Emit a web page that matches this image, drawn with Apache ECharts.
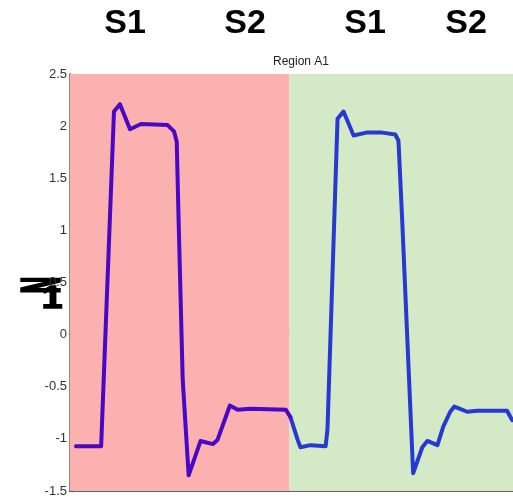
<!DOCTYPE html>
<html>
<head>
<meta charset="utf-8">
<style>
  html, body { margin: 0; padding: 0; background: #fff; }
  #chart { width: 513px; height: 502px; }
</style>
<script src="https://cdn.jsdelivr.net/npm/echarts@6/dist/echarts.min.js"></script>
</head>
<body>
<div id="chart"></div>
<script>
// trace (x in tick units, y in Z1 units)
const traceX = [0.13, 0.68, 0.96, 1.09, 1.31, 1.55, 2.13, 2.27, 2.33, 2.37, 2.46, 2.59,
  2.85, 3.12, 3.22, 3.49, 3.66, 3.94, 4.71, 4.81, 4.97, 5.03, 5.25, 5.58, 5.62,
  5.84, 5.97, 6.19, 6.49, 6.78, 7.10, 7.17, 7.25, 7.49, 7.69, 7.80, 8.02, 8.15,
  8.30, 8.39, 8.67, 8.89, 9.54, 9.65];
const traceY = [-1.07, -1.07, 2.14, 2.21, 1.97, 2.02, 2.01, 1.95, 1.85, 1.11, -0.43, -1.35,
  -1.02, -1.05, -1.01, -0.68, -0.72, -0.71, -0.72, -0.79, -1.01, -1.08, -1.06, -1.07, -0.91,
  2.07, 2.14, 1.91, 1.94, 1.94, 1.92, 1.86, 1.11, -1.33, -1.08, -1.02, -1.06, -0.88,
  -0.74, -0.69, -0.74, -0.73, -0.73, -0.82];

const regionSplit = 4.79;   // red | green boundary
const xMax = 9.67;
const yTicks = [-1.5, 2.5, 0.5]; // min, max, interval
const titleText = 'Region A1';
const phaseLabels = ['S1', 'S2', 'S1', 'S2'];
const axisName = ['N', '1'];

const chart = echarts.init(document.getElementById('chart'));

const points = traceX.map((x, i) => [x, traceY[i]]);
// first point at/after the boundary: purple up to it, blue from it on
const cut = traceX.findIndex(x => x >= regionSplit);
const redPart = points.slice(0, cut + 1);
const greenPart = points.slice(cut);

const phaseX = [125, 245, 365, 466];
const narrow = '"Liberation Sans Narrow", "Arial Narrow", "Liberation Sans", sans-serif';
const boldFont = 'bold 34px "Liberation Sans", Arial, sans-serif';

const option = {
  backgroundColor: '#fff',
  animation: false,
  title: {
    text: titleText,
    left: 296, top: 51,
    textAlign: 'center',
    textStyle: { fontFamily: narrow, fontSize: 12, fontWeight: 'normal', color: '#222' }
  },
  graphic: [
    ...phaseLabels.map((t, i) => ({
      type: 'text', x: phaseX[i], y: 24,
      style: { text: t, fill: '#000', font: boldFont, textAlign: 'center', textVerticalAlign: 'middle' }
    })),
    {
      // rotated, squashed "N" that reads like a Z
      type: 'text', x: 37, y: 285, rotation: -Math.PI / 2, scaleX: 0.66, scaleY: 1.6,
      style: { text: axisName[0], fill: '#000', stroke: '#000', lineWidth: 2.2,
        font: boldFont, textAlign: 'center', textVerticalAlign: 'middle' }
    },
    {
      type: 'text', x: 52, y: 299, scaleX: 1.2,
      style: { text: axisName[1], fill: '#000', stroke: '#000', lineWidth: 1.5,
        font: 'bold 31px "Liberation Sans", Arial, sans-serif',
        textAlign: 'center', textVerticalAlign: 'middle' }
    }
  ],
  grid: { left: 70, right: 0, top: 74, bottom: 11 },
  xAxis: [{
    type: 'value', min: 0, max: xMax, interval: 1,
    axisLine: { show: true, onZero: false, lineStyle: { color: '#666', width: 2 } },
    axisTick: { show: true, inside: true, length: 5, lineStyle: { color: '#666' } },
    axisLabel: { show: false },
    splitLine: { show: false }
  }, {
    type: 'value', min: 0, max: xMax, interval: 1, position: 'top',
    axisLine: { show: true, lineStyle: { color: 'rgba(90,90,90,0.35)', width: 3 } },
    axisTick: { show: true, inside: true, length: 6, lineStyle: { color: 'rgba(60,60,60,0.5)' } },
    axisLabel: { show: false },
    splitLine: { show: false }
  }],
  yAxis: {
    type: 'value', min: yTicks[0], max: yTicks[1], interval: yTicks[2],
    axisLine: { show: true, onZero: false, lineStyle: { color: 'rgba(120,80,80,0.7)', width: 2 } },
    axisTick: { show: true, inside: true, length: 4, lineStyle: { color: 'rgba(100,70,70,0.7)' } },
    axisLabel: { color: '#333', fontFamily: narrow, fontSize: 13, margin: 3 },
    splitLine: { show: false }
  },
  series: [{
    name: 'regions', type: 'line', data: [], silent: true,
    markArea: {
      silent: true,
      data: [
        [{ xAxis: 0, itemStyle: { color: '#fbb1b0' } }, { xAxis: regionSplit }],
        [{ xAxis: regionSplit, itemStyle: { color: '#d4eac6' } }, { xAxis: xMax }]
      ]
    }
  }, {
    name: 'A', type: 'line', data: greenPart, showSymbol: false, z: 5,
    itemStyle: { color: '#2639d2' },
    lineStyle: { color: '#2639d2', width: 4, join: 'round', cap: 'round' }
  }, {
    name: 'B', type: 'line', data: redPart, showSymbol: false, z: 6,
    itemStyle: { color: '#4a07c6' },
    lineStyle: { color: '#4a07c6', width: 4, join: 'round', cap: 'round' }
  }]
};

chart.setOption(option);
</script>
</body>
</html>
